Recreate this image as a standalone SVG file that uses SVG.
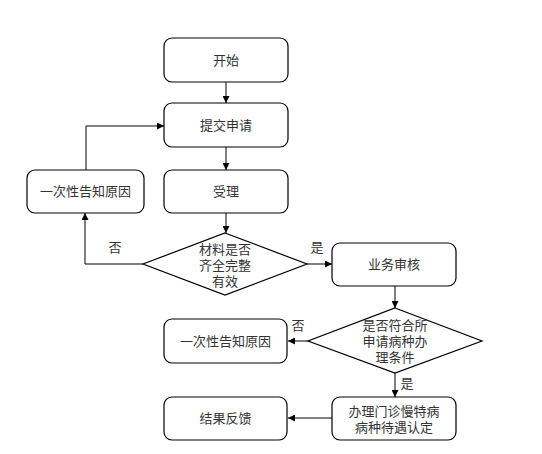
<svg xmlns="http://www.w3.org/2000/svg" width="542" height="454" viewBox="0 0 542 454">
<style>
.box{fill:#fff;stroke:#000;stroke-width:1.2}
.t{font-family:"Liberation Sans","Noto Sans CJK SC",sans-serif;font-size:13px;fill:#333;text-anchor:middle;dominant-baseline:central}
.c{fill:none;stroke:#000;stroke-width:1}
</style>
<defs>
<marker id="a" viewBox="0 0 10 10" refX="10" refY="5" markerWidth="7" markerHeight="7" markerUnits="userSpaceOnUse" orient="auto"><path d="M0,0L10,5L0,10z" fill="#000"/></marker>
</defs>
<rect width="542" height="454" fill="#fff"/>
<g id="connectors">
<path class="c" d="M226,82V103" marker-end="url(#a)"/>
<path class="c" d="M226,147V170" marker-end="url(#a)"/>
<path class="c" d="M226,213V233" marker-end="url(#a)"/>
<path class="c" d="M143,264H85V213" marker-end="url(#a)"/>
<path class="c" d="M86,170V126H164" marker-end="url(#a)"/>
<path class="c" d="M307,264H332" marker-end="url(#a)"/>
<path class="c" d="M395,286V308" marker-end="url(#a)"/>
<path class="c" d="M308,341H288" marker-end="url(#a)"/>
<path class="c" d="M395,373V397" marker-end="url(#a)"/>
<path class="c" d="M332,418H288" marker-end="url(#a)"/>
<text class="t" x="115" y="247">否</text>
<text class="t" x="317" y="247">是</text>
<text class="t" x="298" y="325">否</text>
<text class="t" x="407" y="383">是</text>
</g>
<g id="start"><rect class="box" x="164" y="38" width="124" height="44" rx="8"/><text class="t" x="226" y="60">开始</text></g>
<g id="submit"><rect class="box" x="164" y="103" width="124" height="44" rx="8"/><text class="t" x="226" y="125">提交申请</text></g>
<g id="accept"><rect class="box" x="164" y="170" width="124" height="43" rx="8"/><text class="t" x="226" y="191.5">受理</text></g>
<g id="notify1"><rect class="box" x="27" y="170" width="117" height="43" rx="8"/><text class="t" x="85.5" y="191.5">一次性告知原因</text></g>
<g id="check1"><path class="box" d="M225,233L307,264L225,295L143,264Z"/><text class="t" x="225" y="249">材料是否</text><text class="t" x="225" y="265">齐全完整</text><text class="t" x="225" y="281">有效</text></g>
<g id="review"><rect class="box" x="332" y="243" width="124" height="43" rx="8"/><text class="t" x="394" y="264.5">业务审核</text></g>
<g id="check2"><path class="box" d="M395,308L482,341L395,373L308,341Z"/><text class="t" x="395" y="325">是否符合所</text><text class="t" x="395" y="341">申请病种办</text><text class="t" x="395" y="357">理条件</text></g>
<g id="notify2"><rect class="box" x="164" y="319" width="123" height="44" rx="8"/><text class="t" x="225.5" y="341">一次性告知原因</text></g>
<g id="handle"><rect class="box" x="332" y="397" width="124" height="43" rx="8"/><text class="t" x="394" y="411">办理门诊慢特病</text><text class="t" x="394" y="427">病种待遇认定</text></g>
<g id="feedback"><rect class="box" x="164" y="397" width="123" height="43" rx="8"/><text class="t" x="225.5" y="418.5">结果反馈</text></g>
</svg>
